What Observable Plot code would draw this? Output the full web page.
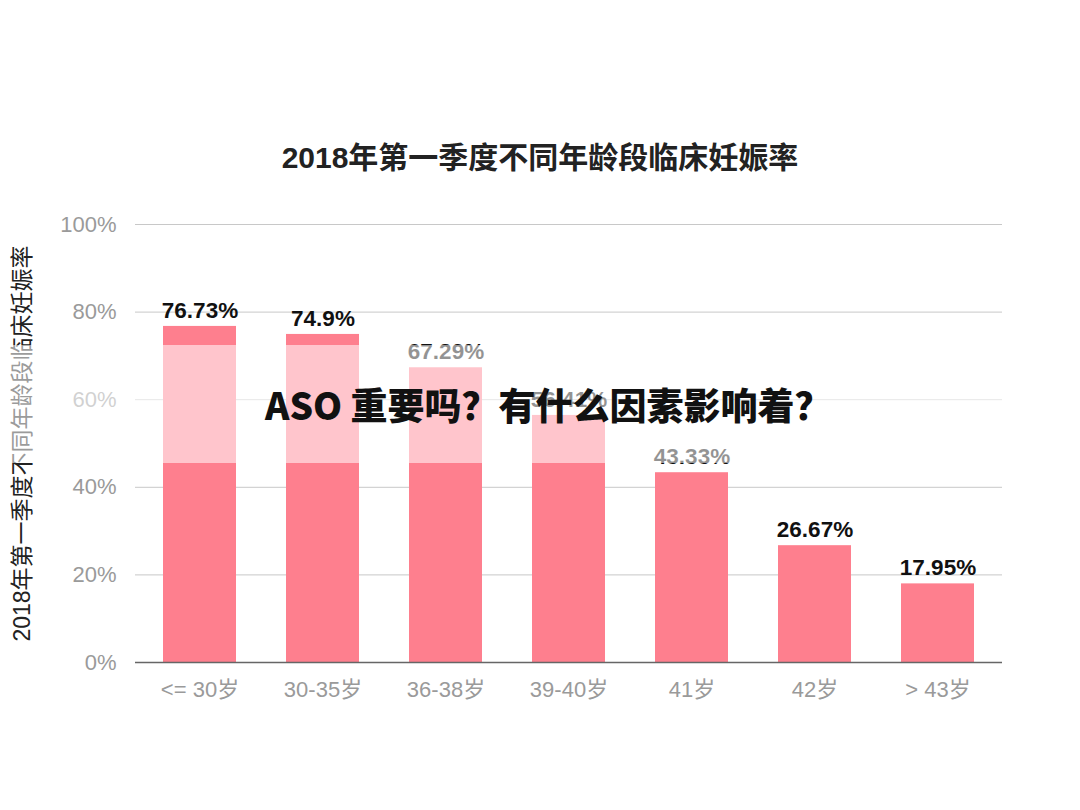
<!DOCTYPE html>
<html>
<head>
<meta charset="utf-8">
<script src="https://cdn.jsdelivr.net/npm/d3@7"></script>
<script src="https://cdn.jsdelivr.net/npm/@observablehq/plot@0.6"></script>
<style>
  html, body { margin: 0; padding: 0; background: #fff; }
  #wrap { position: relative; width: 1080px; height: 810px; overflow: hidden; font-family: "Liberation Sans", "Noto Sans CJK SC", sans-serif; }
  #title { position: absolute; left: 0; top: 140px; width: 1080px; text-align: center; font-size: 30px; font-weight: bold; color: #222; font-family: "Liberation Sans", "Noto Sans CJK SC", sans-serif; line-height: 36px; }
  #chart { position: absolute; left: 0; top: 190px; }
  #veil { position: absolute; left: 0; top: 345px; width: 1080px; height: 118px; background: rgba(255,255,255,0.55); }
  #watermark { position: absolute; left: 265px; top: 382px; font-size: 37px; font-weight: 900; color: #111; font-family: "Noto Sans CJK SC", sans-serif; line-height: 44px; white-space: nowrap; }
</style>
</head>
<body>
<div id="wrap">
  <div id="title"></div>
  <div id="chart"></div>
  <div id="veil"></div>
  <div id="watermark"></div>
</div>
<script>
const titleText = "2018年第一季度不同年龄段临床妊娠率";
const yTitle = "2018年第一季度不同年龄段临床妊娠率";
const watermarkText = "ASO 重要吗？有什么因素影响着？";
const ageGroups = ["<= 30岁", "30-35岁", "36-38岁", "39-40岁", "41岁", "42岁", "> 43岁"];
const rates = [76.73, 74.9, 67.29, 56.41, 43.33, 26.67, 17.95];
const rateLabels = ["76.73%", "74.9%", "67.29%", "56.41%", "43.33%", "26.67%", "17.95%"];
const yTicks = [0, 20, 40, 60, 80, 100];

document.getElementById("title").textContent = titleText;
document.getElementById("watermark").textContent = watermarkText;

const data = ageGroups.map((g, i) => ({group: g, rate: rates[i], label: rateLabels[i]}));

const chart = Plot.plot({
  width: 1080,
  height: 560,
  marginLeft: 135,
  marginRight: 78,
  marginTop: 34,
  marginBottom: 88,
  style: {fontFamily: "Liberation Sans, Noto Sans CJK SC, sans-serif", background: "#fff"},
  x: {domain: ageGroups, paddingInner: 0.41, paddingOuter: 0.22, label: null},
  y: {domain: [0, 100], label: null},
  marks: [
    Plot.gridY(yTicks, {stroke: "#c8c8c8", strokeOpacity: 1, strokeWidth: 1}),
    Plot.barY(data, {x: "group", y: "rate", fill: "#fe7f8e"}),
    Plot.ruleY([0], {stroke: "#666", strokeWidth: 1.5}),
    Plot.axisY(yTicks, {tickSize: 0, tickPadding: 19, fontSize: 22, fill: "#9a9a9a", tickFormat: d => d + "%", label: null}),
    Plot.axisX({tickSize: 0, tickPadding: 19, fontSize: 22, fill: "#9a9a9a", label: null}),
    Plot.text(data, {x: "group", y: "rate", text: "label", dy: -16, fontSize: 22.5, fontWeight: "bold", fill: "#111"}),
    Plot.text([yTitle], {frameAnchor: "left", dx: -113, rotate: -90, fontSize: 23, fill: "#222", textAnchor: "middle"})
  ]
});
document.getElementById("chart").appendChild(chart);
</script>
</body>
</html>
